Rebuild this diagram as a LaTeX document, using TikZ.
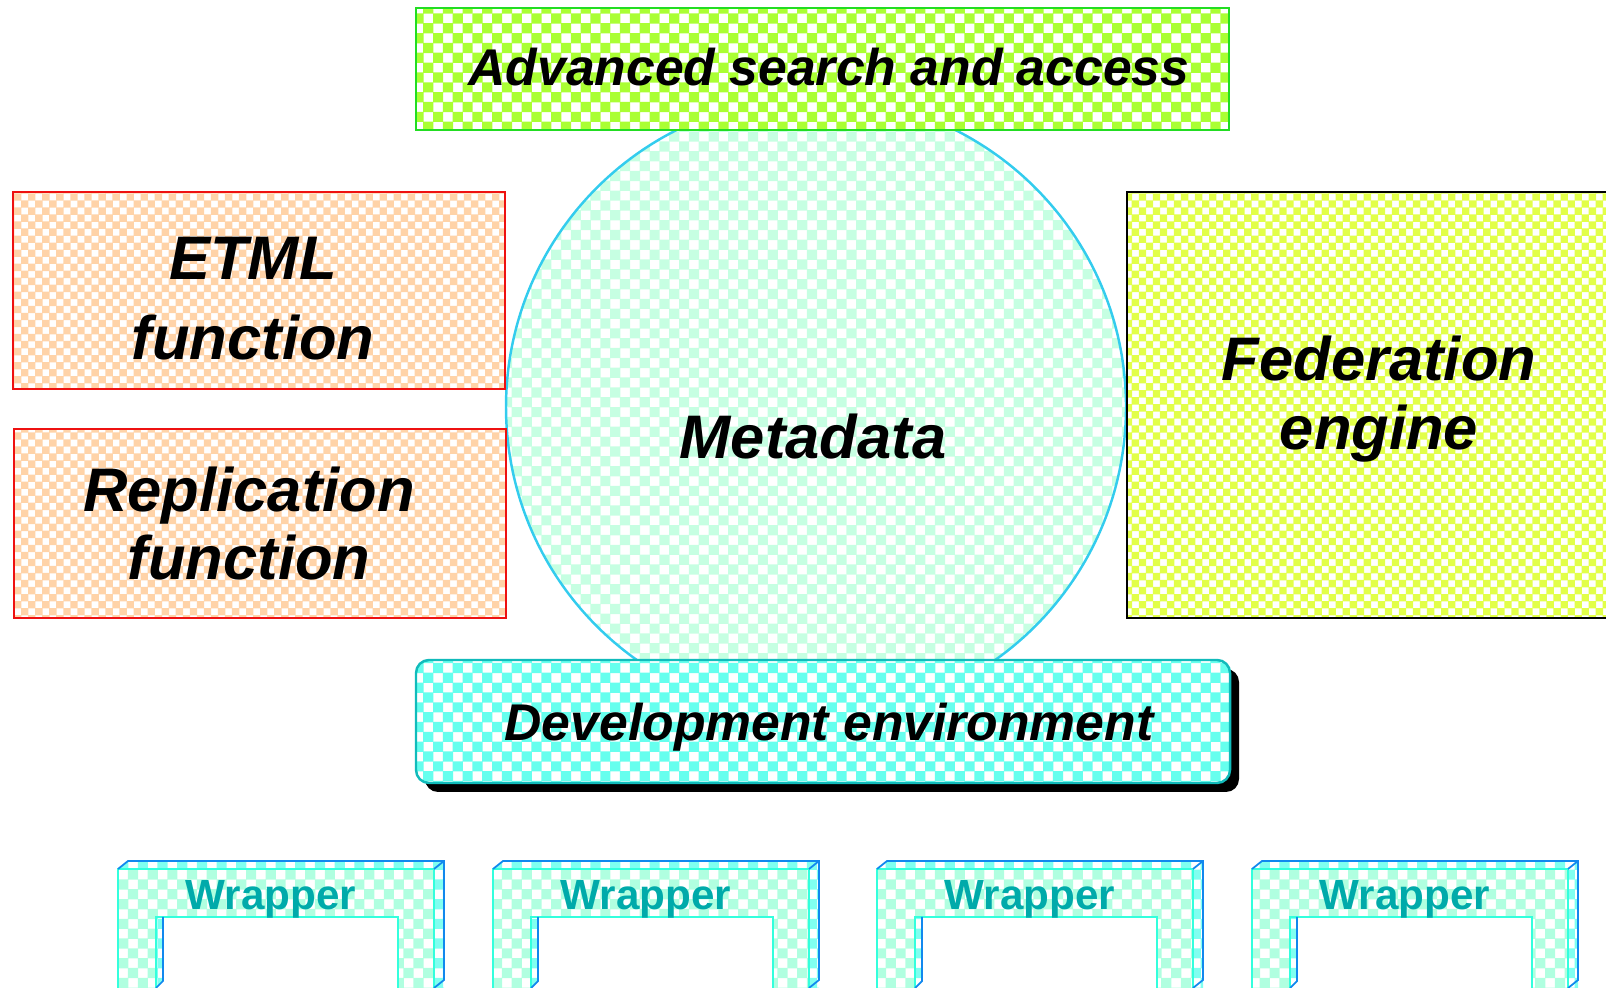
\documentclass[tikz,border=0pt]{standalone}
\usepackage{fontspec}
\setmainfont{Liberation Sans}
\usetikzlibrary{patterns,shadows}

\definecolor{advline}{HTML}{22DD22}
\definecolor{advfill}{HTML}{AAFF33}
\definecolor{funcline}{HTML}{EE1111}
\definecolor{funcfill}{HTML}{FFD3A8}
\definecolor{fedfill}{HTML}{E2FF48}
\definecolor{metaline}{HTML}{33CCEE}
\definecolor{metafill}{HTML}{C6FFE2}
\definecolor{devline}{HTML}{11BBBB}
\definecolor{devfill}{HTML}{66FFEE}
\definecolor{wrapfill}{HTML}{B0FFE0}
\definecolor{wraptop}{HTML}{80FFF0}
\definecolor{wrapline}{HTML}{33FFDD}
\definecolor{wrapedge}{HTML}{1188EE}
\definecolor{wraptext}{HTML}{00AAAA}

\pgfdeclarepatternformonly{coarse checks}{\pgfqpoint{-.1pt}{-.1pt}}{\pgfqpoint{5.7pt}{5.7pt}}{\pgfqpoint{5.6pt}{5.6pt}}{%
  \pgfpathrectangle{\pgfpointorigin}{\pgfqpoint{2.9pt}{2.9pt}}%
  \pgfpathrectangle{\pgfqpoint{2.8pt}{2.8pt}}{\pgfqpoint{2.9pt}{2.9pt}}%
  \pgfusepath{fill}}
\pgfdeclarepatternformonly{fine checks}{\pgfqpoint{-.1pt}{-.1pt}}{\pgfqpoint{4.1pt}{4.1pt}}{\pgfqpoint{4pt}{4pt}}{%
  \pgfpathrectangle{\pgfpointorigin}{\pgfqpoint{2.1pt}{2.1pt}}%
  \pgfpathrectangle{\pgfqpoint{2pt}{2pt}}{\pgfqpoint{2.1pt}{2.1pt}}%
  \pgfusepath{fill}}

\begin{document}
\begin{tikzpicture}
   \tikzstyle{every node}=[align=center, inner sep=0pt]
   \tikzstyle{big}=[font=\fontsize{17.5}{19.5}\selectfont\bfseries\itshape]
   \tikzstyle{mid}=[font=\fontsize{14.7}{17}\selectfont\bfseries\itshape]
   \tikzstyle{box}=[draw, rectangle, line width=0.7pt, preaction={fill=white}]
   \tikzstyle{func}=[box, draw=funcline, pattern=fine checks, pattern color=funcfill, minimum width=4.92cm]
   \tikzstyle{wrapface}=[pattern=coarse checks, pattern color=wrapfill]
   \tikzstyle{wrapside}=[pattern=coarse checks, pattern color=wraptop]
   \tikzstyle{wraplabel}=[text=wraptext, font=\fontsize{12}{14}\selectfont\bfseries]

\useasboundingbox (0,0) rectangle (16.06,9.88);
\clip (0,0) rectangle (16.06,9.88);

\node[circle, draw=metaline, line width=0.7pt, pattern=coarse checks, pattern color=metafill,
      minimum size=6.2cm] (meta) at (8.16,5.81) {};
\node[big] (metatext) at ([xshift=-0.03cm, yshift=-0.3cm]meta.center) {Metadata};

\node[box, draw=advline, pattern=coarse checks, pattern color=advfill,
      minimum width=8.13cm, minimum height=1.22cm] (adv) at (8.225,9.19) {};
\node[mid] (advtext) at ([xshift=0.065cm, yshift=0.02cm]adv.center) {Advanced search and access};

\node[func, minimum height=1.97cm] (etml) at (2.59,6.975) {};
\node[big] (etmltext) at ([xshift=-0.06cm, yshift=-0.08cm]etml.center) {ETML\\[3.3pt]function};
\node[func, minimum height=1.89cm] (repl) at (2.60,4.645) {};
\node[big] (repltext) at ([xshift=-0.11cm]repl.center) {Replication\\function};

\node[box, draw=black, pattern=fine checks, pattern color=fedfill,
      minimum width=5cm, minimum height=4.26cm] (fed) at (13.77,5.83) {};
\node[big] (fedtext) at ([xshift=0.02cm, yshift=0.06cm]fed.center) {Federation\\engine};

\node[drop shadow={shadow xshift=0.09cm, shadow yshift=-0.09cm, fill=black, opacity=1},
      box, draw=devline, rounded corners=0.13cm,
      pattern=coarse checks, pattern color=devfill,
      minimum width=8.14cm, minimum height=1.23cm] (dev) at (8.23,2.665) {};
\node[mid] (devtext) at ([xshift=0.06cm, yshift=-0.06cm]dev.center) {Development environment};

\foreach \x [count=\i] in {1.18,4.93,8.77,12.52} {
  \begin{scope}[shift={(\x,0)}, line width=0.5pt]
    \path[wrapside] (0,1.19) -- (0.10,1.27) -- (3.26,1.27) -- (3.16,1.19) -- cycle;
    \path[wrapside] (3.16,1.19) -- (3.26,1.27) -- (3.26,-0.02) -- (3.16,-0.1) -- cycle;
    \path[wrapside] (0.38,0.71) -- (0.45,0.71) -- (0.45,0.07) -- (0.38,0) -- cycle;
    \draw[wrapline, wrapface] (0,-0.1) -- (0,1.19) -- (3.16,1.19) -- (3.16,-0.1) -- (2.80,-0.1)
       -- (2.80,0.71) -- (0.38,0.71) -- (0.38,-0.1) -- cycle;
    \draw[wrapedge] (0,1.19) -- (0.10,1.27) -- (3.26,1.27) -- (3.26,0.08) -- (3.16,0);
    \draw[wrapedge] (3.16,1.19) -- (3.26,1.27);
    \draw[wrapedge] (0.45,0.71) -- (0.45,0.07) -- (0.38,0);
    \node[wraplabel] (wrap\i) at (1.53,0.89) {Wrapper};
  \end{scope}
}
\end{tikzpicture}
\end{document}
